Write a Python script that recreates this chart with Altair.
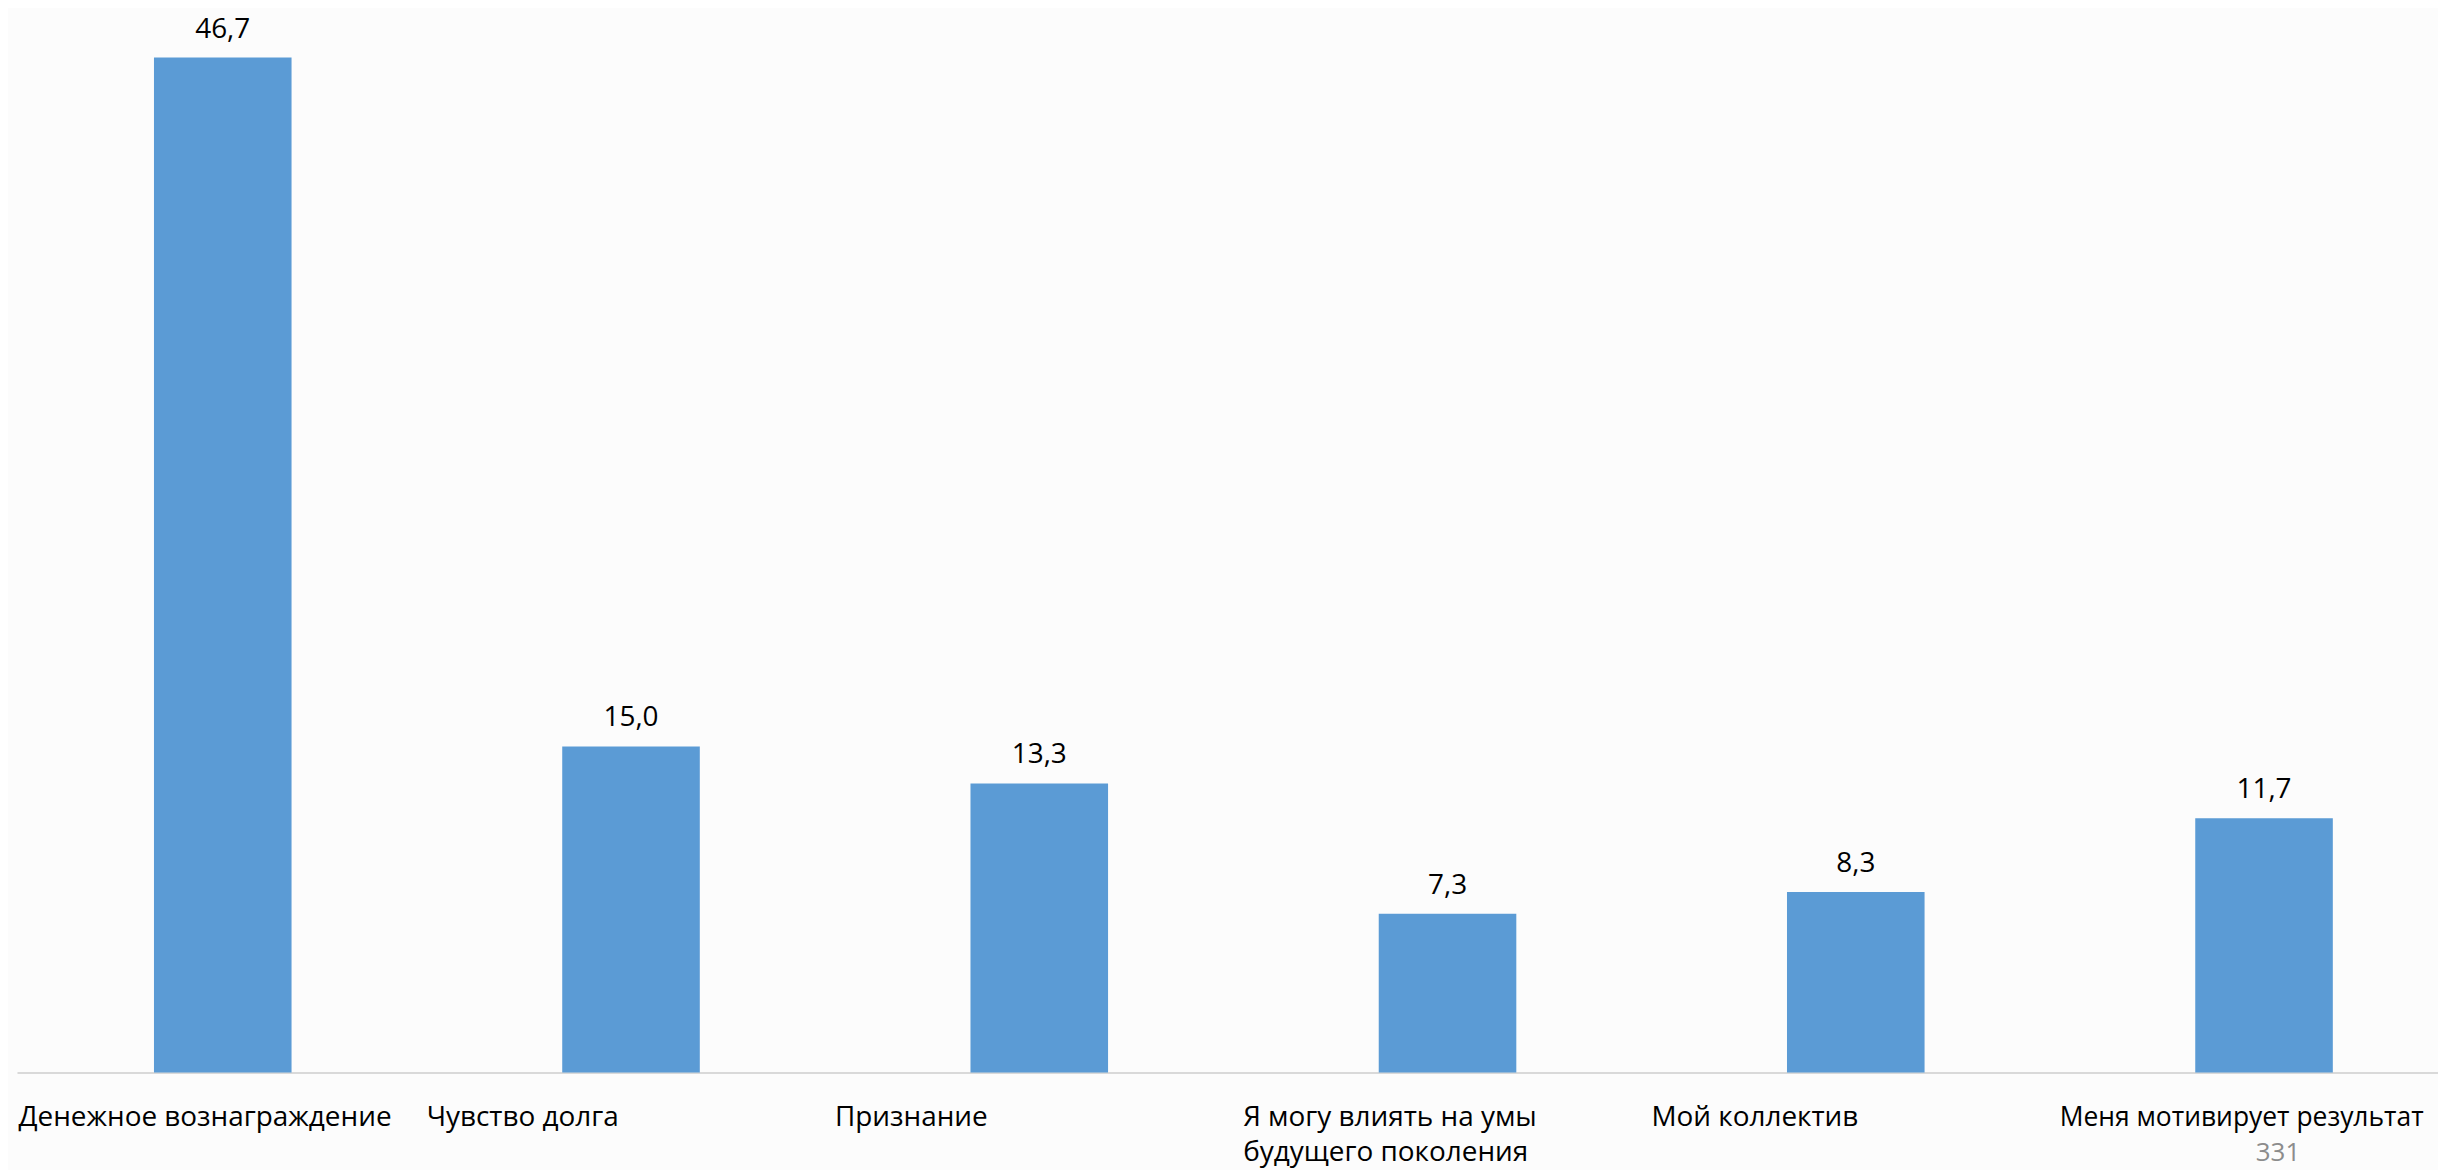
import altair as alt
import pandas as pd

categories = [
    "Денежное вознаграждение",
    "Чувство долга",
    "Признание",
    "Я могу влиять на умы будущего поколения",
    "Мой коллектив",
    "Меня мотивирует результат",
]
values = [46.7, 15.0, 13.3, 7.3, 8.3, 11.7]
wrapped = {"Я могу влиять на умы будущего поколения": ["Я могу влиять на умы", "будущего поколения"]}
page_number = "331"

df = pd.DataFrame({"category": categories, "value": values})

W, H = 2429, 1064
FONT = "Open Sans"

label_expr = "datum.label"
for k, v in wrapped.items():
    label_expr = f"datum.label == '{k}' ? ['{v[0]}', '{v[1]}'] : " + label_expr

xscale = alt.Scale(paddingInner=0.663, paddingOuter=0.2966, align=0.5657)
x = alt.X(
    "category:N",
    sort=categories,
    title=None,
    scale=xscale,
    axis=alt.Axis(
        labelAngle=0,
        labelFont=FONT,
        labelFontSize={"condition": {"test": f"datum.label == '{categories[-1]}'", "value": 26.5}, "value": 28},
        labelColor="#000000",
        labelAlign="left",
        labelOffset=-205,
        labelBaseline="alphabetic",
        labelPadding=53,
        labelLimit=0,
        labelLineHeight=35,
        labelOverlap=False,
        ticks=False,
        tickSize=0,
        domain=True,
        domainColor="#D9D9D9",
        domainWidth=2,
        labelExpr=label_expr,
        grid=False,
    ),
)
y = alt.Y("value:Q", scale=alt.Scale(domain=[0, 48.8], nice=False, zero=True), axis=None)

base = alt.Chart(df)
bars = base.mark_bar(color="#5B9BD5").encode(x=x, y=y)
texts = (
    base.transform_calculate(lbl="replace(format(datum.value, '.1f'), '.', ',')")
    .mark_text(baseline="alphabetic", dy=-20, fontSize=28, font=FONT, color="#000000")
    .encode(x=alt.X("category:N", sort=categories), y=y, text="lbl:N")
)
page = (
    alt.Chart(pd.DataFrame({"category": [categories[-1]], "t": [page_number]}))
    .mark_text(baseline="alphabetic", fontSize=26, font=FONT, color="#8C8C8C", dx=14)
    .encode(x=alt.X("category:N", sort=categories), y=alt.value(H + 89), text="t:N")
)

chart = (
    alt.layer(bars, texts, page)
    .properties(width=W, height=H, background="#FCFCFC",
                autosize=alt.AutoSizeParams(type="none"),
                padding={"left": 9, "top": 2, "right": 0, "bottom": 96})
    .configure_view(stroke=None)
)
chart.save("out.html", embed_options={"renderer": "svg", "actions": False})
